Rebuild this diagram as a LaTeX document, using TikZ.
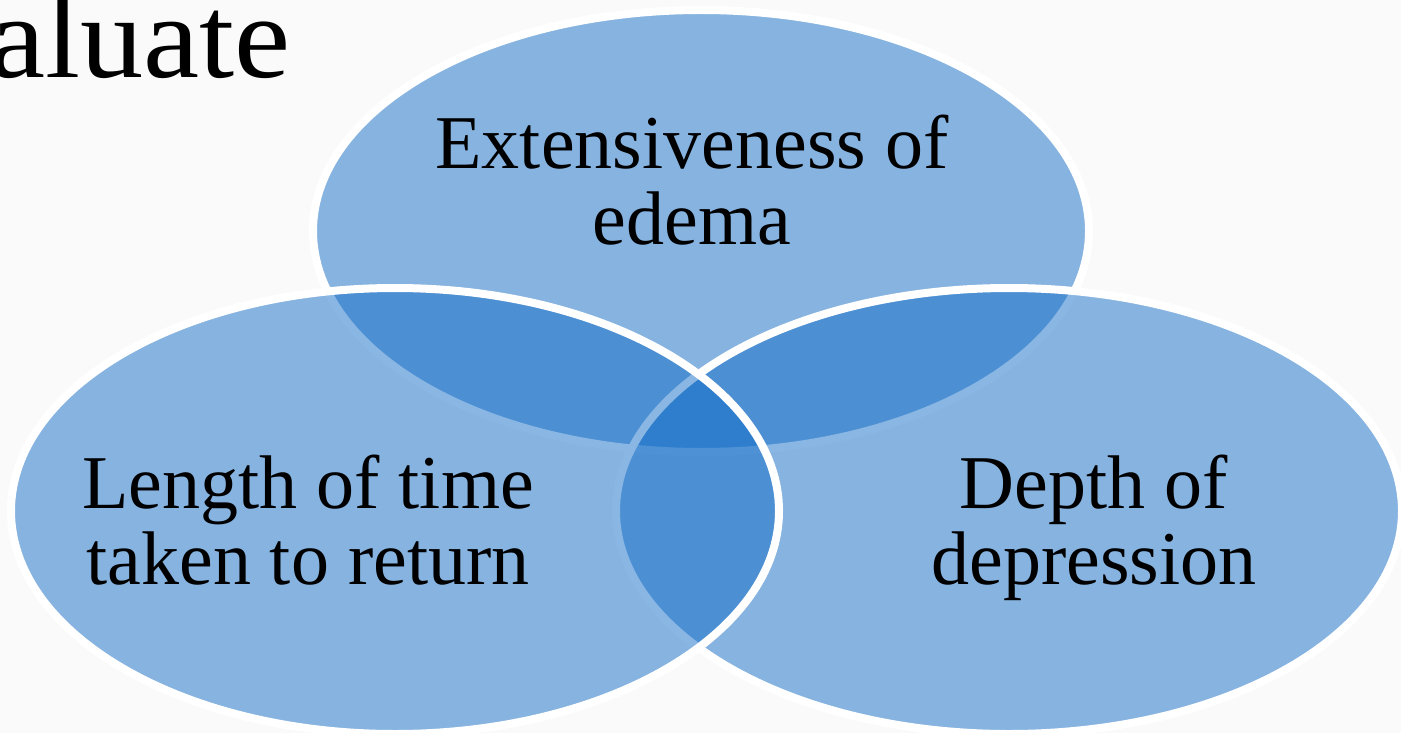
\documentclass[tikz,border=0pt]{standalone}
\usepackage{fontspec}
\setmainfont{Liberation Serif}
\definecolor{vblue}{RGB}{20,110,200}
\definecolor{bgcol}{RGB}{250,250,250}
\tikzset{
  venn/.style={fill=vblue, fill opacity=0.5, draw=white, line width=4},
  lbl/.style={align=center, text=black, font=\fontsize{38pt}{38pt}\selectfont, inner sep=0pt},
  ttl/.style={text=black, font=\fontsize{59pt}{62pt}\selectfont, inner sep=0pt}
}
\begin{document}
\begin{tikzpicture}[x=0.5pt, y=-0.5pt]
\useasboundingbox (0,0) rectangle (1401,733);
\clip (0,0) rectangle (1401,733);
\fill[bgcol] (0,0) rectangle (1401,733);
% title fragment
\node[ttl, anchor=base east, xscale=1.07] (title) at (291,78) {aluate};
% Venn ellipses: top, right, left
\path[venn] (701,231) ellipse [x radius=388, y radius=221];
\path[venn] (1009,511) ellipse [x radius=393, y radius=223];
\path[venn] (395,511) ellipse [x radius=384, y radius=223];
% labels
\node[lbl] (ext) at (692,180) {Extensiveness of\\edema};
\node[lbl] (len) at (308,520) {Length of time\\taken to return};
\node[lbl] (dep) at (1094,528) {Depth of\\depression};
\end{tikzpicture}
\end{document}
